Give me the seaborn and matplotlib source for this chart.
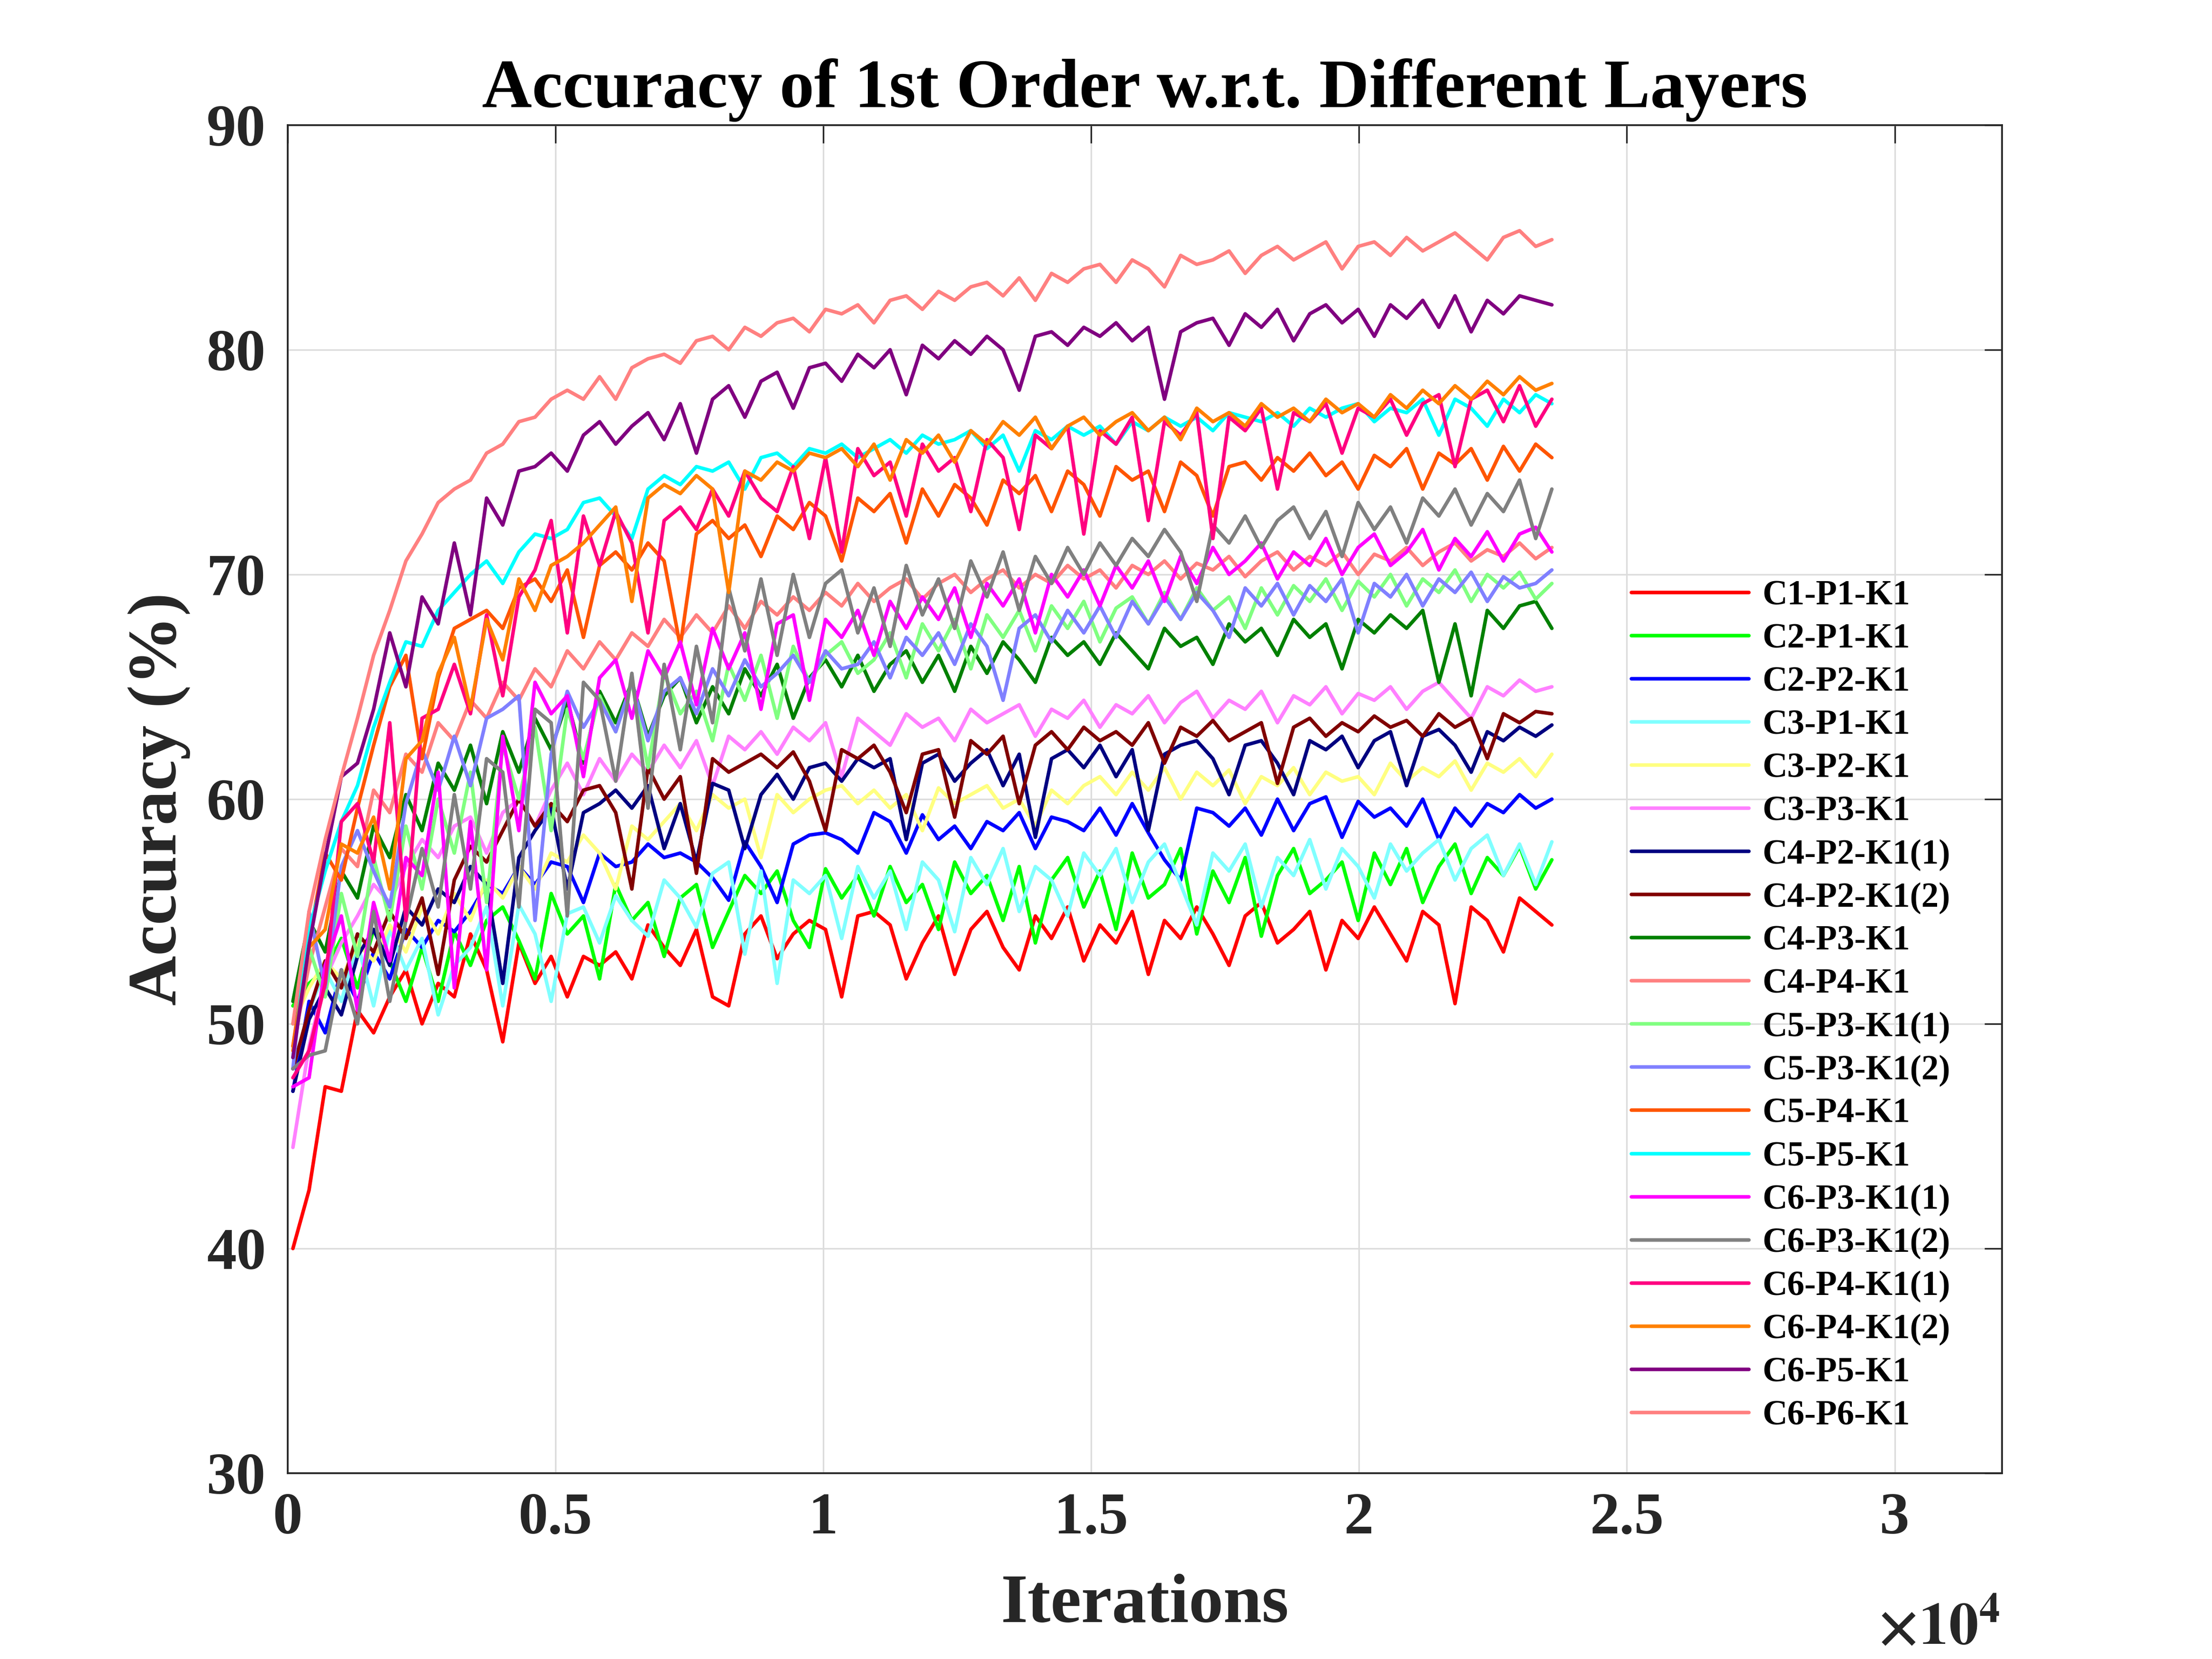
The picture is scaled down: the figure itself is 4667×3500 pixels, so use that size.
import numpy as np
import matplotlib
matplotlib.use('Agg')
import matplotlib.pyplot as plt
import seaborn as sns

# training iterations (x axis) - one test point every ~300 iterations
iterations = np.linspace(100, 23600, 79)

xtick_values = [0, 5000, 10000, 15000, 20000, 25000, 30000]
xtick_labels = ['0', '0.5', '1', '1.5', '2', '2.5', '3']
ytick_values = [30, 40, 50, 60, 70, 80, 90]

layers = ['C1-P1-K1', 'C2-P1-K1', 'C2-P2-K1', 'C3-P1-K1', 'C3-P2-K1',
          'C3-P3-K1', 'C4-P2-K1(1)', 'C4-P2-K1(2)', 'C4-P3-K1', 'C4-P4-K1',
          'C5-P3-K1(1)', 'C5-P3-K1(2)', 'C5-P4-K1', 'C5-P5-K1', 'C6-P3-K1(1)',
          'C6-P3-K1(2)', 'C6-P4-K1(1)', 'C6-P4-K1(2)', 'C6-P5-K1', 'C6-P6-K1']

# accuracy (%) per layer
c1_p1_k1 = [40.0, 42.6, 47.2, 47.0, 50.6, 49.6, 51.2, 52.4, 50.0, 51.8,
            51.2, 54.0, 52.4, 49.2, 53.6, 51.8, 53.0, 51.2, 53.0, 52.6,
            53.2, 52.0, 54.4, 53.4, 52.6, 54.2, 51.2, 50.8, 54.0, 54.8,
            52.9, 54.0, 54.6, 54.2, 51.2, 54.8, 55.0, 54.4, 52.0, 53.6,
            54.8, 52.2, 54.2, 55.0, 53.4, 52.4, 54.8, 53.8, 55.2, 52.8,
            54.4, 53.6, 55.0, 52.2, 54.6, 53.8, 55.2, 54.0, 52.6, 54.8,
            55.4, 53.6, 54.2, 55.0, 52.4, 54.6, 53.8, 55.2, 54.0, 52.8,
            55.0, 54.4, 50.9, 55.2, 54.6, 53.2, 55.6, 55.0, 54.4]
c2_p1_k1 = [50.8, 51.8, 52.4, 53.8, 51.6, 54.2, 52.8, 51.0, 53.4, 51.0,
            54.1, 52.6, 54.6, 55.2, 53.7, 52.0, 55.8, 54.0, 54.8, 52.0,
            56.2, 54.6, 55.4, 53.0, 55.6, 56.2, 53.4, 55.0, 56.6, 55.8,
            56.8, 54.6, 53.4, 56.9, 55.6, 56.6, 54.8, 57.0, 55.4, 56.2,
            54.2, 57.2, 55.8, 56.6, 54.6, 57.0, 53.6, 56.4, 57.4, 55.2,
            56.8, 54.2, 57.6, 55.6, 56.2, 57.8, 54.0, 56.8, 55.4, 57.4,
            53.9, 56.6, 57.8, 55.8, 56.4, 57.2, 54.6, 57.6, 56.2, 57.8,
            55.4, 57.0, 58.0, 55.8, 57.4, 56.6, 57.9, 56.0, 57.3]
c2_p2_k1 = [47.0, 51.0, 49.6, 52.4, 51.0, 53.2, 52.0, 54.2, 53.4, 54.6,
            54.1, 55.0, 56.2, 55.8, 57.0, 56.2, 57.2, 57.0, 55.4, 57.6,
            57.0, 57.2, 58.0, 57.4, 57.6, 57.2, 56.5, 55.5, 58.1, 57.0,
            55.4, 58.0, 58.4, 58.5, 58.2, 57.6, 59.4, 59.0, 57.6, 59.3,
            58.2, 58.8, 57.8, 59.0, 58.6, 59.4, 57.8, 59.2, 59.0, 58.6,
            59.6, 58.4, 59.8, 58.5, 57.3, 56.4, 59.6, 59.4, 58.8, 59.6,
            58.4, 60.0, 58.6, 59.8, 60.1, 58.3, 59.9, 59.2, 59.6, 58.8,
            60.0, 58.2, 59.6, 58.8, 59.8, 59.4, 60.2, 59.6, 60.0]
c3_p1_k1 = [48.0, 50.6, 52.4, 51.0, 53.6, 50.8, 54.2, 52.4, 53.8, 50.4,
            52.6, 53.4, 55.2, 50.8, 55.3, 54.0, 51.0, 54.9, 55.2, 53.6,
            55.7, 54.6, 53.9, 56.4, 55.6, 54.3, 56.7, 57.2, 53.1, 56.8,
            51.8, 56.4, 55.8, 56.6, 53.8, 57.0, 55.6, 56.8, 54.2, 57.2,
            56.4, 54.1, 57.4, 56.2, 57.8, 55.0, 57.0, 56.4, 54.8, 57.6,
            56.6, 57.8, 55.4, 57.2, 58.0, 56.2, 54.4, 57.6, 56.8, 58.0,
            55.2, 57.4, 56.6, 58.2, 56.0, 57.8, 57.0, 55.6, 58.0, 56.8,
            57.6, 58.2, 56.4, 57.8, 58.4, 56.6, 58.0, 56.2, 58.1]
c3_p2_k1 = [50.0, 51.6, 52.8, 52.0, 53.6, 52.8, 54.4, 53.2, 55.2, 54.0,
            55.8, 54.6, 56.4, 55.6, 57.0, 56.0, 57.6, 57.2, 58.4, 57.6,
            56.0, 58.8, 58.2, 59.0, 59.8, 58.6, 60.2, 59.6, 60.0, 57.4,
            60.2, 59.4, 60.0, 60.4, 60.6, 59.8, 60.4, 59.6, 60.2, 58.6,
            60.5, 59.8, 60.2, 60.6, 59.6, 60.0, 58.8, 60.4, 59.8, 60.6,
            61.0, 60.2, 61.2, 60.4, 61.4, 60.0, 61.2, 60.6, 61.3, 59.8,
            61.0, 60.6, 61.4, 60.2, 61.2, 60.8, 61.0, 60.2, 61.6, 60.8,
            61.4, 61.0, 61.7, 60.4, 61.6, 61.2, 61.8, 61.0, 62.0]
c3_p3_k1 = [44.5, 49.0, 52.0, 53.6, 54.8, 56.2, 55.4, 57.0, 58.2, 57.4,
            58.8, 59.2, 57.6, 59.4, 60.0, 58.8, 60.4, 61.6, 60.2, 61.8,
            60.8, 62.0, 61.2, 62.4, 61.4, 62.6, 60.6, 62.8, 62.2, 63.0,
            62.0, 63.2, 62.6, 63.4, 61.0, 63.6, 63.0, 62.4, 63.8, 63.2,
            63.6, 62.6, 64.0, 63.4, 63.8, 64.2, 62.8, 64.0, 63.6, 64.4,
            63.2, 64.2, 63.8, 64.6, 63.4, 64.3, 64.8, 63.6, 64.4, 64.0,
            64.8, 63.4, 64.6, 64.2, 65.0, 63.8, 64.7, 64.4, 65.0, 64.0,
            64.8, 65.2, 64.4, 63.6, 65.0, 64.6, 65.3, 64.8, 65.0]
c4_p2_k1_1 = [47.0, 50.2, 51.6, 50.4, 53.0, 54.2, 52.6, 55.2, 54.4, 56.0,
              55.4, 57.0, 56.2, 51.8, 57.4, 58.6, 59.6, 56.0, 59.4, 59.8,
              60.4, 59.6, 60.6, 57.8, 59.8, 57.2, 60.7, 60.4, 57.8, 60.2,
              61.1, 60.0, 61.4, 61.6, 60.8, 61.8, 61.4, 61.8, 58.2, 61.6,
              62.0, 60.8, 61.6, 62.2, 60.6, 62.0, 58.3, 61.8, 62.2, 61.4,
              62.4, 61.0, 62.2, 58.6, 62.0, 62.4, 62.6, 61.8, 60.2, 62.4,
              62.6, 61.6, 60.2, 62.6, 62.2, 62.8, 61.4, 62.6, 63.0, 60.6,
              62.8, 63.1, 62.4, 61.2, 63.0, 62.6, 63.2, 62.8, 63.3]
c4_p2_k1_2 = [48.0, 50.6, 52.8, 51.6, 54.0, 53.2, 55.0, 53.8, 55.6, 52.2,
              56.4, 57.9, 57.2, 58.6, 60.0, 58.8, 59.8, 59.0, 60.4, 60.6,
              59.4, 56.0, 61.4, 60.0, 61.0, 56.7, 61.8, 61.2, 61.6, 62.0,
              61.4, 62.1, 60.8, 58.6, 62.2, 61.8, 62.4, 61.2, 59.4, 62.0,
              62.2, 59.2, 62.6, 62.0, 62.8, 59.8, 62.4, 63.0, 62.2, 63.2,
              62.6, 63.0, 62.4, 63.4, 61.6, 63.2, 62.8, 63.5, 62.6, 63.0,
              63.4, 60.7, 63.2, 63.6, 62.8, 63.4, 63.0, 63.7, 63.2, 63.5,
              62.8, 63.8, 63.2, 63.6, 61.8, 63.8, 63.4, 63.9, 63.8]
c4_p3_k1 = [51.0, 54.6, 53.2, 56.8, 55.6, 58.8, 57.4, 60.2, 58.6, 61.6,
            60.4, 62.4, 59.8, 63.0, 61.2, 63.6, 62.2, 64.4, 61.6, 64.8,
            63.4, 65.2, 62.8, 64.6, 65.4, 63.4, 65.0, 63.8, 65.8, 64.6,
            66.0, 63.6, 65.4, 66.2, 65.0, 66.4, 64.8, 66.0, 66.6, 65.2,
            66.4, 64.8, 66.8, 65.6, 67.0, 66.2, 65.2, 67.2, 66.4, 67.0,
            66.0, 67.4, 66.6, 65.8, 67.6, 66.8, 67.2, 66.0, 67.8, 67.0,
            67.6, 66.4, 68.0, 67.2, 67.8, 65.8, 68.0, 67.4, 68.2, 67.6,
            68.4, 65.2, 67.8, 64.6, 68.4, 67.6, 68.6, 68.8, 67.6]
c4_p4_k1 = [49.0, 52.6, 55.2, 57.8, 57.0, 60.4, 59.4, 62.0, 61.2, 63.4,
            62.6, 64.4, 63.6, 65.2, 64.4, 65.8, 65.0, 66.6, 65.8, 67.0,
            66.2, 67.4, 66.8, 68.0, 67.2, 68.2, 67.4, 68.6, 67.6, 68.8,
            68.2, 69.0, 68.4, 69.2, 68.6, 69.6, 68.8, 69.4, 69.8, 68.9,
            69.6, 70.0, 69.2, 69.8, 70.2, 69.4, 70.0, 69.6, 70.4, 69.8,
            70.2, 69.4, 70.4, 70.0, 70.6, 69.8, 70.5, 70.2, 70.8, 69.9,
            70.6, 71.0, 70.2, 70.8, 70.4, 71.0, 70.0, 70.9, 70.6, 71.2,
            70.4, 71.0, 71.4, 70.6, 71.1, 70.8, 71.4, 70.7, 71.2]
c5_p3_k1_1 = [50.0, 53.4, 51.2, 55.8, 53.0, 57.4, 54.6, 58.8, 56.0, 60.0,
              57.6, 61.2, 55.4, 62.4, 60.0, 63.2, 58.6, 64.0, 61.8, 64.6,
              63.0, 65.2, 61.4, 65.6, 63.8, 64.8, 62.6, 66.0, 64.4, 66.4,
              63.6, 66.8, 65.2, 66.4, 67.0, 65.6, 66.2, 67.4, 65.4, 67.8,
              66.6, 68.0, 65.8, 68.2, 67.2, 68.4, 66.6, 68.6, 67.6, 68.8,
              67.0, 68.5, 69.0, 67.8, 69.2, 68.0, 69.4, 68.4, 69.0, 67.6,
              69.4, 68.2, 69.5, 68.8, 69.8, 68.4, 69.7, 69.0, 70.0, 68.6,
              69.8, 69.2, 70.2, 68.8, 70.0, 69.4, 70.1, 68.9, 69.6]
c5_p3_k1_2 = [48.0, 55.0, 51.6, 57.0, 58.6, 56.8, 55.2, 59.8, 62.2, 60.4,
              62.8, 60.6, 63.6, 64.0, 64.6, 54.6, 62.0, 64.8, 63.2, 64.4,
              63.0, 65.2, 62.6, 64.8, 65.4, 63.8, 65.8, 64.6, 66.2, 65.0,
              65.6, 66.4, 65.2, 66.6, 65.8, 66.0, 67.0, 65.4, 67.2, 66.4,
              67.4, 66.0, 67.8, 66.8, 64.4, 67.6, 68.2, 67.0, 68.4, 67.4,
              68.6, 67.2, 68.8, 67.8, 69.0, 68.0, 69.2, 68.4, 67.2, 69.4,
              68.6, 69.6, 68.2, 69.5, 68.8, 69.8, 67.4, 69.6, 69.0, 70.0,
              68.6, 69.8, 69.2, 70.1, 68.8, 69.9, 69.4, 69.6, 70.2]
c5_p4_k1 = [49.0, 53.8, 57.6, 56.4, 59.6, 62.4, 65.0, 66.4, 61.8, 65.4,
            67.6, 68.0, 68.4, 67.6, 69.4, 69.8, 68.8, 70.2, 67.2, 70.4,
            71.0, 70.2, 71.4, 70.6, 66.8, 71.8, 72.4, 71.6, 72.2, 70.8,
            72.6, 72.0, 73.2, 72.6, 70.6, 73.4, 72.8, 73.6, 71.4, 73.8,
            72.6, 74.0, 73.4, 72.2, 74.2, 73.6, 74.4, 72.8, 74.6, 74.0,
            72.6, 74.8, 74.2, 74.6, 72.8, 75.0, 74.4, 72.6, 74.8, 75.0,
            74.2, 75.2, 74.6, 75.4, 74.4, 75.0, 73.8, 75.3, 74.8, 75.6,
            73.8, 75.4, 74.9, 75.6, 74.2, 75.7, 74.6, 75.8, 75.2]
c5_p5_k1 = [48.5, 54.2, 56.8, 59.0, 60.6, 63.2, 65.2, 67.0, 66.8, 68.4,
            69.2, 70.0, 70.6, 69.6, 71.0, 71.8, 71.6, 72.0, 73.2, 73.4,
            72.6, 71.6, 73.8, 74.4, 74.0, 74.8, 74.6, 75.0, 73.8, 75.2,
            75.4, 74.8, 75.6, 75.4, 75.8, 75.2, 75.6, 76.0, 75.4, 76.2,
            75.8, 76.0, 76.4, 75.6, 76.2, 74.6, 76.4, 76.0, 76.6, 76.2,
            76.6, 75.8, 76.8, 76.4, 77.0, 76.6, 77.0, 76.4, 77.2, 77.0,
            76.8, 77.2, 76.6, 77.4, 77.0, 77.4, 77.6, 76.8, 77.4, 77.2,
            77.8, 76.2, 77.8, 77.4, 76.6, 77.8, 77.2, 78.0, 77.6]
c6_p3_k1_1 = [47.2, 47.6, 52.6, 54.8, 50.6, 55.4, 52.8, 57.4, 56.6, 61.2,
              51.6, 59.0, 52.4, 62.8, 58.6, 65.2, 63.8, 64.6, 61.0, 65.4,
              66.2, 63.6, 66.6, 65.4, 67.0, 64.2, 67.6, 65.8, 67.4, 64.0,
              67.8, 68.2, 64.4, 68.0, 67.2, 68.4, 66.4, 68.8, 67.6, 69.0,
              68.0, 69.4, 67.2, 69.6, 68.6, 69.8, 67.4, 70.0, 69.0, 70.2,
              68.6, 70.4, 69.4, 70.6, 68.8, 70.8, 69.6, 71.2, 70.0, 70.6,
              71.4, 69.8, 71.0, 70.4, 71.6, 70.0, 71.2, 71.8, 70.4, 71.0,
              72.0, 70.2, 71.6, 70.8, 71.9, 70.6, 71.8, 72.1, 71.0]
c6_p3_k1_2 = [48.0, 48.6, 48.8, 52.4, 50.0, 55.0, 51.0, 54.6, 57.8, 55.2,
              60.2, 56.0, 61.8, 61.2, 55.2, 64.0, 63.4, 54.8, 65.2, 64.4,
              60.8, 65.6, 59.6, 66.0, 62.2, 66.8, 63.4, 69.4, 66.6, 69.8,
              66.4, 70.0, 67.2, 69.6, 70.2, 67.4, 69.4, 66.8, 70.4, 68.2,
              69.8, 67.6, 70.6, 69.0, 71.0, 68.4, 70.8, 69.6, 71.2, 70.0,
              71.4, 70.4, 71.6, 70.8, 72.0, 71.0, 68.8, 72.2, 71.4, 72.6,
              71.2, 72.4, 73.0, 71.6, 72.8, 70.8, 73.2, 72.0, 73.0, 71.4,
              73.4, 72.6, 73.8, 72.2, 73.6, 72.8, 74.2, 71.6, 73.8]
c6_p4_k1_1 = [47.6, 48.8, 51.8, 59.0, 59.8, 57.2, 63.4, 54.6, 63.6, 64.0,
              66.0, 63.8, 68.2, 64.6, 69.0, 70.2, 72.4, 67.4, 72.6, 70.4,
              72.8, 71.4, 67.4, 72.4, 73.0, 72.0, 73.8, 72.6, 74.6, 73.4,
              72.8, 74.8, 71.6, 75.2, 71.0, 75.6, 74.4, 75.0, 72.6, 75.8,
              74.6, 75.2, 72.8, 76.0, 75.2, 72.0, 76.2, 75.6, 76.6, 71.8,
              76.4, 75.8, 77.0, 72.4, 76.8, 76.2, 77.2, 71.6, 77.0, 76.4,
              77.4, 73.8, 77.2, 76.8, 77.6, 75.4, 77.4, 77.0, 77.8, 76.2,
              77.6, 78.0, 74.8, 77.8, 78.2, 76.8, 78.4, 76.6, 77.8]
c6_p4_k1_2 = [48.8, 53.4, 54.2, 58.0, 57.6, 59.2, 56.0, 61.8, 62.6, 65.6,
              67.2, 64.0, 68.0, 66.2, 69.8, 68.4, 70.4, 70.8, 71.4, 72.2,
              73.0, 68.8, 73.4, 74.0, 73.6, 74.4, 73.8, 69.2, 74.6, 74.2,
              75.0, 74.6, 75.4, 75.2, 75.6, 74.8, 75.8, 74.2, 76.0, 75.4,
              76.2, 75.0, 76.4, 75.8, 76.8, 76.2, 77.0, 75.6, 76.6, 77.0,
              76.2, 76.8, 77.2, 76.4, 77.0, 76.0, 77.4, 76.8, 77.2, 76.6,
              77.6, 77.0, 77.4, 76.8, 77.8, 77.2, 77.6, 77.0, 78.0, 77.4,
              78.2, 77.6, 78.4, 77.8, 78.6, 78.0, 78.8, 78.2, 78.5]
c6_p5_k1 = [48.5, 53.5, 57.4, 61.0, 61.6, 64.0, 67.4, 65.0, 69.0, 67.8,
            71.4, 68.2, 73.4, 72.2, 74.6, 74.8, 75.4, 74.6, 76.2, 76.8,
            75.8, 76.6, 77.2, 76.0, 77.6, 75.4, 77.8, 78.4, 77.0, 78.6,
            79.0, 77.4, 79.2, 79.4, 78.6, 79.8, 79.2, 80.0, 78.0, 80.2,
            79.6, 80.4, 79.8, 80.6, 80.0, 78.2, 80.6, 80.8, 80.2, 81.0,
            80.6, 81.2, 80.4, 81.0, 77.8, 80.8, 81.2, 81.4, 80.2, 81.6,
            81.0, 81.8, 80.4, 81.6, 82.0, 81.2, 81.8, 80.6, 82.0, 81.4,
            82.2, 81.0, 82.4, 80.8, 82.2, 81.6, 82.4, 82.2, 82.0]
c6_p6_k1 = [50.0, 55.0, 58.2, 61.0, 63.6, 66.4, 68.4, 70.6, 71.8, 73.2,
            73.8, 74.2, 75.4, 75.8, 76.8, 77.0, 77.8, 78.2, 77.8, 78.8,
            77.8, 79.2, 79.6, 79.8, 79.4, 80.4, 80.6, 80.0, 81.0, 80.6,
            81.2, 81.4, 80.8, 81.8, 81.6, 82.0, 81.2, 82.2, 82.4, 81.8,
            82.6, 82.2, 82.8, 83.0, 82.4, 83.2, 82.2, 83.4, 83.0, 83.6,
            83.8, 83.0, 84.0, 83.6, 82.8, 84.2, 83.8, 84.0, 84.4, 83.4,
            84.2, 84.6, 84.0, 84.4, 84.8, 83.6, 84.6, 84.8, 84.2, 85.0,
            84.4, 84.8, 85.2, 84.6, 84.0, 85.0, 85.3, 84.6, 84.9]

accuracy = [c1_p1_k1, c2_p1_k1, c2_p2_k1, c3_p1_k1, c3_p2_k1, c3_p3_k1,
            c4_p2_k1_1, c4_p2_k1_2, c4_p3_k1, c4_p4_k1, c5_p3_k1_1,
            c5_p3_k1_2, c5_p4_k1, c5_p5_k1, c6_p3_k1_1, c6_p3_k1_2,
            c6_p4_k1_1, c6_p4_k1_2, c6_p5_k1, c6_p6_k1]

colors = ['#ff0000', '#00ff00', '#0000ff', '#80ffff', '#ffff80',
          '#ff80ff', '#000080', '#800000', '#008000', '#ff8080',
          '#80ff80', '#8080ff', '#ff5500', '#00ffff', '#ff00ff',
          '#808080', '#ff0080', '#ff8000', '#800080', '#ff8080']


sns.set_theme(style='white')
plt.rcParams['font.family'] = ['Liberation Serif', 'DejaVu Serif']
plt.rcParams['font.weight'] = 'bold'
plt.rcParams['mathtext.fontset'] = 'stix'
plt.rcParams['text.color'] = '#262626'
plt.rcParams['axes.labelcolor'] = '#262626'

fig = plt.figure(figsize=(4667 / 300, 3500 / 300), dpi=300)
# same box as a default MATLAB figure
ax = fig.add_axes([0.13, 0.112, 0.775, 0.8126])

for name, acc, col in zip(layers, accuracy, colors):
    sns.lineplot(x=iterations, y=acc, color=col, linewidth=1.8,
                 label=name, ax=ax)

ax.set_xlim(0, 32000)
ax.set_ylim(30, 90)
ax.set_xticks(xtick_values)
ax.set_xticklabels(xtick_labels)
ax.set_yticks(ytick_values)
ax.tick_params(axis='both', direction='in', length=9, width=0.8,
               top=True, right=True, labelsize=30, colors='#262626')
ax.tick_params(axis='x', pad=9.6)
ax.tick_params(axis='y', pad=11)
ax.grid(True, color='#dcdcdc', linewidth=0.8)
for s in ax.spines.values():
    s.set_visible(True)
    s.set_color('#262626')
    s.set_linewidth(0.9)

ax.set_title('Accuracy of 1st Order w.r.t. Different Layers', fontsize=35,
             fontweight='bold', color='black', pad=9)
ax.set_xlabel('Iterations', fontsize=35, fontweight='bold', labelpad=14)
ax.set_ylabel('Accuracy (%)', fontsize=35, fontweight='bold', labelpad=8)

ax.legend(loc='upper left', bbox_to_anchor=(0.784, 0.6626), frameon=False,
          prop={'size': 17.5, 'weight': 'bold'}, handlelength=3.4,
          handletextpad=0.38, labelspacing=0.316, borderpad=0,
          borderaxespad=0, labelcolor='black')

fig.text(0.904, 0.009, r'$\times10^{4}$', ha='right', va='baseline',
         fontsize=30, color='#262626')

fig.savefig('out.png', dpi=300)
